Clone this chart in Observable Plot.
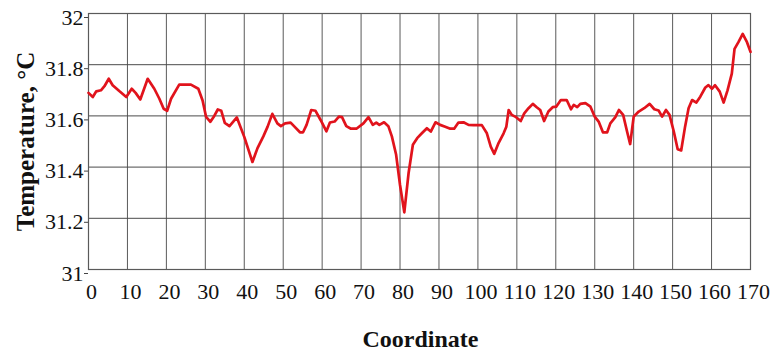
<!DOCTYPE html>
<html>
<head>
<meta charset="utf-8">
<script src="https://cdn.jsdelivr.net/npm/d3@7"></script>
<script src="https://cdn.jsdelivr.net/npm/@observablehq/plot@0.6"></script>
<style>
  html, body { margin: 0; padding: 0; background: #fff; }
  #chart svg { display: block; }
  #chart svg text { font-family: "Liberation Serif", "Times New Roman", serif !important; }
</style>
</head>
<body>
<div id="chart"></div>
<script>
// Temperature profile along the coordinate
const coordinate = [
  0, 1.1, 2, 3.2, 4.1, 5.2, 6.2, 7.9, 9.7, 11.1, 12.1, 13.3, 15.2, 16.9, 18.2, 19.3,
  20.2, 21.2, 23.3, 26.3, 28.2, 29.3, 30.2, 31.3, 32.3, 33.2, 34.1, 35.0, 36.2, 38.1,
  40.0, 42.1, 43.4, 44.9, 46.0, 47.2, 48.5, 49.4, 50.5, 51.9, 52.9, 54.3, 55.1, 56.0,
  57.2, 58.3, 59.6, 61.1, 62.0, 63.2, 64.3, 65.1, 66.2, 67.4, 68.8, 70.6, 71.9, 73.0,
  73.9, 74.7, 75.9, 77.0, 77.9, 79.0, 80.0, 81.1, 82.2, 83.3, 84.4, 85.6, 86.9, 87.9,
  89.1, 90.3, 91.6, 92.9, 93.9, 95.0, 96.3, 97.6, 98.9, 101.0, 102.3, 103.3, 104.2,
  105.3, 106.6, 107.3, 107.9, 108.7, 109.8, 111.0, 111.9, 113.0, 114.1, 115.1, 116.0,
  117.0, 118.1, 119.2, 120.1, 121.3, 122.8, 123.9, 124.6, 125.5, 126.3, 127.6, 128.9,
  130.0, 131.0, 132.1, 133.2, 134.0, 135.3, 136.2, 137.3, 138.3, 139.1, 140.0, 141.3,
  142.7, 144.1, 145.3, 146.4, 147.3, 148.3, 149.2, 150.3, 151.3, 152.2, 153.2, 154.1,
  155.0, 156.1, 157.1, 158.4, 159.2, 160.1, 160.9, 162.1, 163.1, 164.1, 165.2, 165.9,
  166.9, 168.0, 169.1, 170.0
];
const temperature = [
  31.69, 31.674, 31.696, 31.70, 31.716, 31.745, 31.72, 31.697, 31.674, 31.706, 31.69, 31.664, 31.745, 31.706, 31.667, 31.628,
  31.62, 31.667, 31.722, 31.722, 31.706, 31.66, 31.596, 31.577, 31.60, 31.625, 31.62, 31.573, 31.56, 31.594,
  31.518, 31.42, 31.474, 31.52, 31.558, 31.608, 31.571, 31.56, 31.571, 31.574, 31.558, 31.536, 31.536, 31.565,
  31.623, 31.62, 31.584, 31.54, 31.574, 31.578, 31.597, 31.595, 31.56, 31.55, 31.55, 31.571, 31.595, 31.565,
  31.574, 31.565, 31.575, 31.56, 31.52, 31.448, 31.33, 31.223, 31.377, 31.487, 31.513, 31.532, 31.552, 31.539,
  31.575, 31.565, 31.558, 31.55, 31.55, 31.574, 31.575, 31.565, 31.564, 31.564, 31.532, 31.48, 31.452,
  31.494, 31.532, 31.558, 31.623, 31.604, 31.595, 31.58, 31.61, 31.63, 31.647, 31.634, 31.623,
  31.58, 31.617, 31.634, 31.636, 31.662, 31.662, 31.626, 31.643, 31.634, 31.647, 31.65, 31.636,
  31.597, 31.578, 31.536, 31.536, 31.571, 31.595, 31.623, 31.604, 31.539, 31.49, 31.597, 31.617,
  31.63, 31.647, 31.626, 31.621, 31.597, 31.623, 31.604, 31.539, 31.47, 31.465, 31.558, 31.63,
  31.662, 31.652, 31.675, 31.711, 31.72, 31.706, 31.72, 31.695, 31.652, 31.70, 31.765, 31.862,
  31.888, 31.92, 31.888, 31.85
];

const xTicks = [0, 10, 20, 30, 40, 50, 60, 70, 80, 90, 100, 110, 120, 130, 140, 150, 160, 170];
const yTicks = [31, 31.2, 31.4, 31.6, 31.8, 32];
const yTickLabels = ["31", "31.2", "31.4", "31.6", "31.8", "32"];
const xTitle = "Coordinate";
const yTitle = "Temperature, °C";

const data = coordinate.map((c, i) => ({coordinate: c, temperature: temperature[i]}));
const serif = "Liberation Serif, Times New Roman, serif";

const chart = Plot.plot({
  width: 781,
  height: 358,
  marginLeft: 88,
  marginRight: 31,
  marginTop: 13,
  marginBottom: 89,
  style: {fontFamily: serif, fontSize: "22px", color: "#111", background: "#fff"},
  x: {domain: [0, 170]},
  y: {domain: [31, 32]},
  marks: [
    Plot.gridX(xTicks, {stroke: "#5a5a5a", strokeOpacity: 1, strokeWidth: 1}),
    Plot.gridY(yTicks, {stroke: "#4a4a4a", strokeOpacity: 1, strokeWidth: 1}),
    Plot.frame({stroke: "#5a5a5a", strokeWidth: 1.2}),
    Plot.axisX(xTicks, {
      label: null, tickSize: 0, tickPadding: 14, dx: 3,
      fontSize: 22, fontFamily: serif, fill: "#111"
    }),
    Plot.axisY(yTicks, {
      label: null, tickSize: 4, tickPadding: 1, dy: 4,
      tickFormat: (d) => yTickLabels[yTicks.indexOf(d)],
      fontSize: 22, fontFamily: serif, fill: "#111", stroke: "#444"
    }),
    Plot.line(data, {
      x: "coordinate", y: "temperature",
      stroke: "#e1131c", strokeWidth: 2.7, strokeLinejoin: "round"
    }),
    Plot.text([xTitle], {
      frameAnchor: "bottom", lineAnchor: "bottom", dy: 77, dx: 1,
      fontSize: 24, fontWeight: "bold", fontFamily: serif, fill: "#111"
    }),
    Plot.text([yTitle], {
      frameAnchor: "left", textAnchor: "middle", lineAnchor: "bottom", rotate: -90, dx: -55,
      fontSize: 25, fontWeight: "bold", fontFamily: serif, fill: "#111"
    })
  ]
});

document.getElementById("chart").append(chart);
</script>
</body>
</html>
